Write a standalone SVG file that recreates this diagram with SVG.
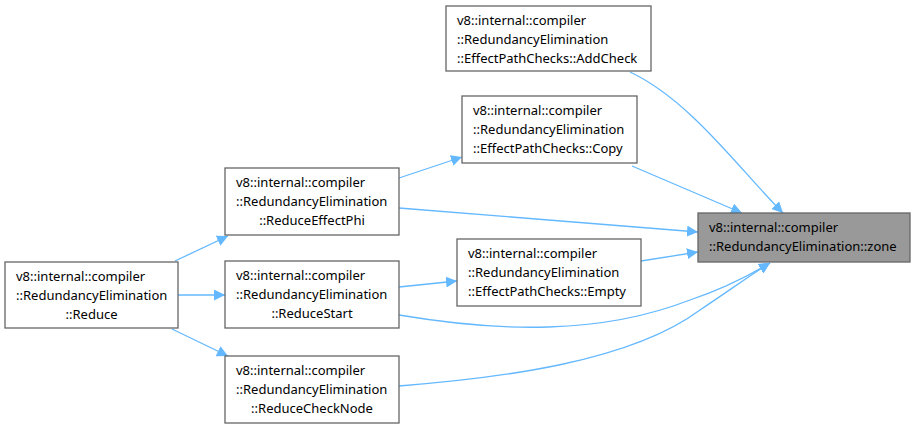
<svg xmlns="http://www.w3.org/2000/svg" width="915" height="430" viewBox="0 0 915 430">
<defs>
<style>
.n rect{fill:#ffffff;stroke:#666666;stroke-width:1.3}
.n.hl rect{fill:#999999}
text{font-family:"Noto Sans","DejaVu Sans",sans-serif;font-size:13px;fill:#000}
.c{text-anchor:middle}
.e path{fill:none;stroke:#63b8ff;stroke-width:1.3}
</style>
<marker id="ah" viewBox="0 0 10 10" refX="10" refY="5" markerWidth="11" markerHeight="11" markerUnits="userSpaceOnUse" orient="auto"><path d="M0,0 L10,5 L0,10 z" fill="#63b8ff"/></marker>
</defs>
<rect width="915" height="430" fill="#ffffff"/>
<g class="e">
<path d="M175,261 L228,236" marker-end="url(#ah)"/>
<path d="M178,295 L225,295" marker-end="url(#ah)"/>
<path d="M172,329 L228,356" marker-end="url(#ah)"/>
<path d="M399,178 L462,157" marker-end="url(#ah)"/>
<path d="M399,208 L698,232" marker-end="url(#ah)"/>
<path d="M399,287 L457,281" marker-end="url(#ah)"/>
<path d="M641,261 L698,252" marker-end="url(#ah)"/>
<path d="M632,166 L742,213" marker-end="url(#ah)"/>
<path d="M630,72 C690,100 740,170 783,213" marker-end="url(#ah)"/>
<path d="M399,315 C500,332 600,335 690,300 C720,290 750,275 770,263" marker-end="url(#ah)"/>
<path d="M399,386 C500,378 630,362 700,310 C730,290 755,272 770,263" marker-end="url(#ah)"/>
</g>
<g id="zone" class="n hl"><rect x="698" y="213" width="212" height="49"/><text x="709" y="232">v8::internal::compiler</text><text x="709" y="251">::RedundancyElimination::zone</text></g>
<g id="addcheck" class="n"><rect x="446" y="6" width="205" height="65"/><text x="457" y="25">v8::internal::compiler</text><text x="457" y="44">::RedundancyElimination</text><text x="457" y="63">::EffectPathChecks::AddCheck</text></g>
<g id="copy" class="n"><rect x="462" y="96" width="175" height="67"/><text x="473" y="115">v8::internal::compiler</text><text x="473" y="134">::RedundancyElimination</text><text x="473" y="153">::EffectPathChecks::Copy</text></g>
<g id="reduceeffectphi" class="n"><rect x="225" y="168" width="174" height="67"/><text x="236" y="187">v8::internal::compiler</text><text x="236" y="206">::RedundancyElimination</text><text class="c" x="312" y="225">::ReduceEffectPhi</text></g>
<g id="empty" class="n"><rect x="457" y="239" width="184" height="67"/><text x="468" y="258">v8::internal::compiler</text><text x="468" y="277">::RedundancyElimination</text><text x="468" y="296">::EffectPathChecks::Empty</text></g>
<g id="reducestart" class="n"><rect x="225" y="261" width="174" height="67"/><text x="236" y="280">v8::internal::compiler</text><text x="236" y="299">::RedundancyElimination</text><text class="c" x="312" y="318">::ReduceStart</text></g>
<g id="reduce" class="n"><rect x="5" y="262" width="173" height="66"/><text x="16" y="281">v8::internal::compiler</text><text x="16" y="300">::RedundancyElimination</text><text class="c" x="91.5" y="319">::Reduce</text></g>
<g id="reducechecknode" class="n"><rect x="225" y="356" width="174" height="67"/><text x="236" y="375">v8::internal::compiler</text><text x="236" y="394">::RedundancyElimination</text><text class="c" x="312" y="413">::ReduceCheckNode</text></g>
</svg>
